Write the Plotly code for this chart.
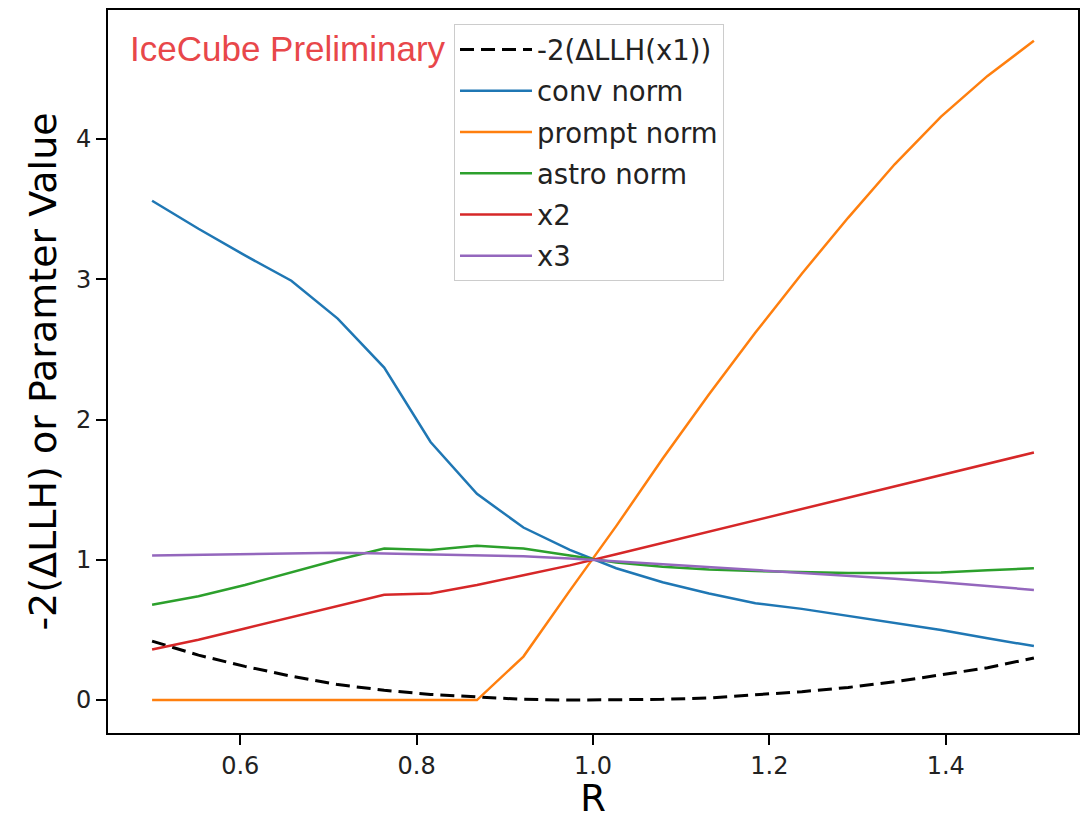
import plotly.graph_objects as go

R = [0.5, 0.5526, 0.6053, 0.6579, 0.7105, 0.7632, 0.8158, 0.8684, 0.9211, 0.9737,
     1.0263, 1.0789, 1.1316, 1.1842, 1.2368, 1.2895, 1.3421, 1.3947, 1.4474, 1.5]

llh = [0.42, 0.32, 0.24, 0.17, 0.11, 0.07, 0.04, 0.02, 0.005, 0.0,
       0.0, 0.005, 0.015, 0.035, 0.06, 0.09, 0.13, 0.18, 0.23, 0.30]
conv_norm = [3.56, 3.36, 3.17, 2.99, 2.72, 2.37, 1.84, 1.47, 1.23, 1.07,
             0.94, 0.84, 0.76, 0.69, 0.65, 0.60, 0.55, 0.50, 0.44, 0.385]
prompt_norm = [0.0, 0.0, 0.0, 0.0, 0.0, 0.0, 0.0, 0.0, 0.31, 0.78,
               1.24, 1.72, 2.18, 2.62, 3.04, 3.44, 3.82, 4.16, 4.45, 4.70]
astro_norm = [0.68, 0.74, 0.82, 0.91, 1.00, 1.08, 1.07, 1.10, 1.08, 1.03,
              0.98, 0.95, 0.93, 0.92, 0.91, 0.905, 0.905, 0.91, 0.925, 0.94]
x2 = [0.36, 0.43, 0.51, 0.59, 0.67, 0.75, 0.76, 0.82, 0.89, 0.96,
      1.04, 1.12, 1.20, 1.28, 1.36, 1.44, 1.52, 1.60, 1.68, 1.765]
x3 = [1.03, 1.035, 1.04, 1.045, 1.05, 1.045, 1.04, 1.035, 1.025, 1.01,
      0.99, 0.97, 0.95, 0.93, 0.91, 0.89, 0.865, 0.84, 0.815, 0.785]

names = ["-2(ΔLLH(x1))", "conv norm", "prompt norm", "astro norm", "x2", "x3"]
series = [llh, conv_norm, prompt_norm, astro_norm, x2, x3]
colors = ["black", "#1f77b4", "#ff7f0e", "#2ca02c", "#d62728", "#9467bd"]

x_ticks = [0.6, 0.8, 1.0, 1.2, 1.4]
x_ticklabels = ["0.6", "0.8", "1.0", "1.2", "1.4"]
y_ticks = [0, 1, 2, 3, 4]
y_ticklabels = ["0", "1", "2", "3", "4"]

fig = go.Figure()
for i, (nm, ys, c) in enumerate(zip(names, series, colors)):
    line = dict(color=c, width=2.5)
    if i == 0:
        line = dict(color=c, width=3, dash="14px,7px")
    fig.add_trace(go.Scatter(x=R, y=ys, mode="lines", name=nm, line=line,
                             legendgroup=str(i)))

font_main = "DejaVu Sans"
L, RM, T, B = 108, 7, 10, 87
PW, PH = 1085 - L - RM, 820 - T - B

fig.update_layout(
    width=1085, height=820,
    margin=dict(l=L, r=RM, t=T, b=B, autoexpand=False),
    plot_bgcolor="white", paper_bgcolor="white",
    font=dict(family=font_main, color="black"),
    showlegend=True,
    legend=dict(
        x=(454 - L) / PW, y=(820 - B - 24) / PH, xanchor="left", yanchor="top",
        bgcolor="rgba(255,255,255,0.9)", bordercolor="#cccccc", borderwidth=1,
        font=dict(family=font_main, size=27.5, color="#222222"),
        traceorder="grouped", tracegroupgap=2.5, itemwidth=72,
    ),
    xaxis=dict(
        range=[0.45, 1.55], tickvals=x_ticks, ticktext=x_ticklabels,
        ticks="outside", ticklen=10, tickwidth=1.5, tickcolor="black",
        showline=True, mirror=True, linecolor="black", linewidth=2,
        showgrid=False, zeroline=False, automargin=False,
        tickfont=dict(family=font_main, size=24, color="#222222"),
        title=dict(text="R", font=dict(family=font_main, size=37, color="black"), standoff=10),
    ),
    yaxis=dict(
        range=[-0.235, 4.92], tickvals=y_ticks, ticktext=y_ticklabels,
        ticks="outside", ticklen=10, tickwidth=1.5, tickcolor="black",
        showline=True, mirror=True, linecolor="black", linewidth=2,
        showgrid=False, zeroline=False, automargin=False,
        tickfont=dict(family=font_main, size=24, color="#222222"),
        title=dict(text="-2(ΔLLH) or Paramter Value",
                   font=dict(family=font_main, size=38, color="black"), standoff=8),
    ),
)

fig.add_annotation(
    text="IceCube Preliminary", xref="paper", yref="paper",
    x=(128 - L) / PW, y=(820 - B - 48) / PH, xanchor="left", yanchor="middle",
    showarrow=False,
    font=dict(family="Liberation Sans", size=35, color="#e8474a"),
)

fig.write_html(
    "out.html",
    config={"displayModeBar": False},
    post_script="document.body.style.margin='0';document.body.style.overflow='hidden';",
)
